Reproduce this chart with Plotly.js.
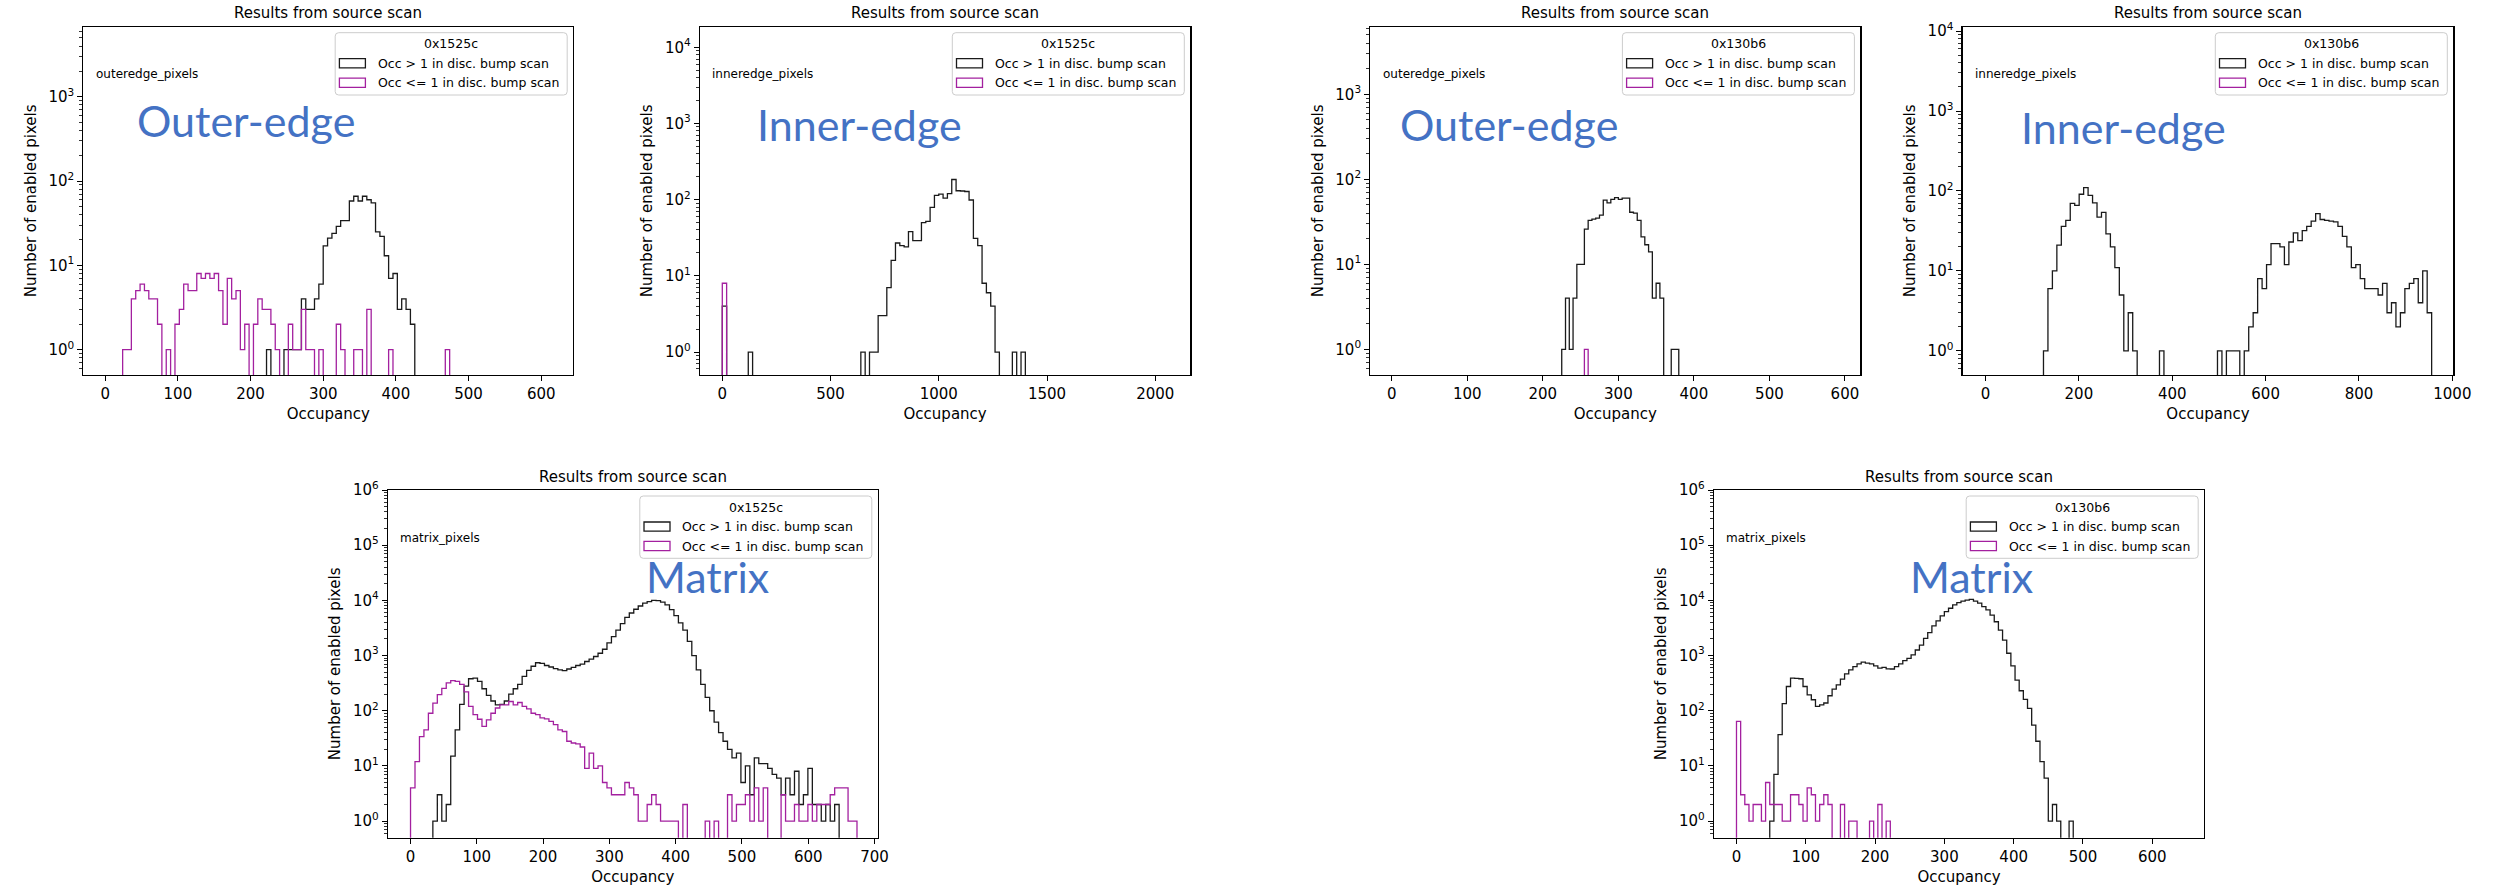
<!DOCTYPE html>
<html>
<head>
<meta charset="utf-8">
<script src="https://cdn.plot.ly/plotly-3.0.1.min.js"></script>
<style>
  html, body { margin: 0; padding: 0; background: #ffffff; }
  #chart { width: 2496px; height: 888px; }
</style>
</head>
<body>
<div id="chart"></div>
<script>
// Occupancy histograms from the source scan for two chips (0x1525c, 0x130b6),
// one panel per pixel region, each split by the disc. bump scan result.

const W = 2496, H = 888;

// ---------------- histogram contents ----------------
// Each series: bin width, index of the first listed bin, counts per bin.

// 0x1525c, outer-edge pixels
const outer1525cBinWidth = 6;
const outer1525cHighStart = 37;
const outer1525cHigh = [1,0,0,0,1,1,1,1,4,3,3,4,6,17,21,24,29,34,34,58,66,58,66,60,55,25,22,13,7,8,3,4,3,2];
const outer1525cLowStart = 4;
const outer1525cLow = [1,1,4,5,6,5,4,4,2,0, 1,0,2,3,6,5,5,8,7,8, 7,8,5,2,7,4,5,1,2,0,
                       2,4,3,3,2,1,0,0,2,1, 1,3,1,1,0,1,0,0,0,2, 1,0,0,1,1,0,3,0,0,0,
                       0,1,0,0,0,0,0,0,0,0, 0,0,0,0,1];

// 0x1525c, inner-edge pixels
const inner1525cBinWidth = 20;
const inner1525cHighStart = 0;
const inner1525cHigh = [4,0,0,0,0,0,1,
                        0,0,0,0,0, 0,0,0,0,0, 0,0,0,0,0, 0,0,0,0,0, 0,0,0,0,0,
                        1,0,1,1,3,3,7,16,27,25,24,38,29,29,50,52,79,114,118,105,120,184,131,130,128,99,31,25,8,6,4,1,0,0,0,1,0,1];
const inner1525cLowStart = 0;
const inner1525cLow = [8];

// 0x130b6, outer-edge pixels
const outer130b6BinWidth = 5;
const outer130b6HighStart = 45;
const outer130b6High = [1,4,1,4,10,10,26,33,34,35, 38,57,53,58,61,58,60,60,41,40, 33,21,17,14,4,6,4,0,0,1, 1];
const outer130b6LowStart = 51;
const outer130b6Low = [1];

// 0x130b6, inner-edge pixels
const inner130b6BinWidth = 9.556;
const inner130b6HighStart = 13;
const inner130b6High = [1,6,10,21,36,43,70,66,91,110,88,71,47,54,29,20,11,5,1,3,1,
                        0,0,0,0,0, 1, 0,0,0,0,0,0,0,0,0,0,0,0, 1,0,1,1,1,0,
                        1,2,3,8,6,12,22,22,20,12, 23,30,24,32,36,42,52,44,43,42,
                        41,36,27,20,11,12,8,6,6,6, 5,7,3,4,2,3,6,7,8,4, 10,3];
const inner130b6LowStart = 0;
const inner130b6Low = [];

// 0x1525c, matrix pixels
const matrix1525cBinWidth = 6.736;
const matrix1525cHighStart = 5;
const matrix1525cHigh = [1,3,1,2,15,45,130,280,380,390,
                         340,250,190,150,128,130,150,200,250,300,
                         420,540,640,740,720,660,620,580,550,535,
                         570,610,660,700,780,860,960,1100,1300,1700,
                         2200,2900,3800,4900,5900,6900,7900,8900,9500,10000,
                         9900,9300,8300,6800,5300,3900,2900,1800,1000,550,
                         300,175,100,62,40,28,20,14,17,5,
                         10,3,14,11,11,9,7,6,3,6,
                         3,8,2,3,9,2,2,1,2,1,2];
const matrix1525cLowStart = 0;
const matrix1525cLow = [4,12,34,45,90,137,195,255,320,350,
                        340,300,220,120,85,70,52,68,90,112,
                        128,128,147,128,141,120,108,90,85,74,
                        71,64,56,45,42,28,26,25,22,9,
                        17,9,10,5,4,3,3,3,5,4,
                        3,1,1,2,3,2,1,1,1,1,
                        0,2,0,0,0,0,1,0,1,0,
                        0,3,1,2,2,3,1,4,1,4,
                        0,0,0,3,1,1,2,1,1,2,
                        1,2,2,2,3,4,4,4,1,1];

// 0x130b6, matrix pixels
const matrix130b6BinWidth = 6;
const matrix130b6HighStart = 8;
const matrix130b6High = [1,7,37,134,275,390,385,380,275,194,
                         158,120,128,138,187,246,294,374,465,550,
                         630,707,760,730,707,650,590,610,575,570,
                         630,707,810,890,1025,1260,1550,2050,2600,3450,
                         4250,5250,6250,7200,8270,9100,9700,10100,10400,9700,
                         8900,7700,6700,5400,4100,2900,1900,1100,650,360,
                         230,160,110,55,28,12,6,1,2,1,
                         0,0,1];
const matrix130b6LowStart = 0;
const matrix130b6Low = [64,3,2,1,2,2,1,5,2,2, 2,1,1,3,3,2,1,4,3,1, 2,3,2,0,0,2,0,1,1,0, 0,0,1,0,2,0,1];

// Text
const chipNames = ['0x1525c', '0x1525c', '0x130b6', '0x130b6', '0x1525c', '0x130b6'];
const regionNames = ['outeredge_pixels', 'inneredge_pixels', 'outeredge_pixels', 'inneredge_pixels', 'matrix_pixels', 'matrix_pixels'];
const regionTitles = ['Outer-edge', 'Inner-edge', 'Outer-edge', 'Inner-edge', 'Matrix', 'Matrix'];
const seriesNames = ['Occ > 1 in disc. bump scan', 'Occ <= 1 in disc. bump scan'];
const plotTitle = 'Results from source scan';
const xTitle = 'Occupancy';
const yTitle = 'Number of enabled pixels';

// ---------------- layout of the six panels (pixels) ----------------
const panels = [
  { l: 83.4,   r: 573.2,  t: 26.7, b: 375,   xr: [-30, 644],   dt: 100, yTop: 3.831, tag: [136.6, 136.7],
    w: outer1525cBinWidth, hs: outer1525cHighStart, hi: outer1525cHigh, ls: outer1525cLowStart, lo: outer1525cLow },
  { l: 700,    r: 1190.3, t: 26.7, b: 375,   xr: [-103, 2162], dt: 500, yTop: 4.27,  tag: [757, 141],
    w: inner1525cBinWidth, hs: inner1525cHighStart, hi: inner1525cHigh, ls: inner1525cLowStart, lo: inner1525cLow },
  { l: 1370.3, r: 1860.4, t: 26.7, b: 375,   xr: [-28.5, 620.5], dt: 100, yTop: 3.795, tag: [1400.1, 140.7],
    w: outer130b6BinWidth, hs: outer130b6HighStart, hi: outer130b6High, ls: outer130b6LowStart, lo: outer130b6Low },
  { l: 1962.6, r: 2453.3, t: 26.7, b: 375,   xr: [-49, 1002],  dt: 200, yTop: 4.054, tag: [2020.5, 144],
    w: inner130b6BinWidth, hs: inner130b6HighStart, hi: inner130b6High, ls: inner130b6LowStart, lo: inner130b6Low },
  { l: 388,    r: 877.8,  t: 490,  b: 837.7, xr: [-34, 705],   dt: 100, yTop: 6,     tag: [646.3, 592.8],
    w: matrix1525cBinWidth, hs: matrix1525cHighStart, hi: matrix1525cHigh, ls: matrix1525cLowStart, lo: matrix1525cLow },
  { l: 1713.9, r: 2204.2, t: 490,  b: 837.7, xr: [-32.6, 675], dt: 100, yTop: 6,     tag: [1910.4, 592.8],
    w: matrix130b6BinWidth, hs: matrix130b6HighStart, hi: matrix130b6High, ls: matrix130b6LowStart, lo: matrix130b6Low }
];

const HIGH_COLOR = '#1a1a1a';
const LOW_COLOR = '#a3209f';
const FONT = 'DejaVu Sans';
const YBOTTOM = Math.log10(0.5);

const px = x => x / W;
const py = y => 1 - y / H;

// Outline of a step histogram: rises from below the axis at the first edge,
// follows every bin top, and drops back below the axis after the last bin.
function stepTrace(binWidth, start, counts, color, xa, ya) {
  const floor = 1e-3;
  const x = [start * binWidth], y = [floor];
  counts.forEach((c, i) => { x.push((start + i) * binWidth); y.push(c > 0 ? c : floor); });
  x.push((start + counts.length) * binWidth); y.push(floor);
  return { type: 'scatter', mode: 'lines', x, y, xaxis: xa, yaxis: ya,
           line: { shape: 'hv', color, width: 1.3 }, hoverinfo: 'skip', showlegend: false };
}

function roundRect(x0, y0, x1, y1, r) {
  const X = v => px(v).toFixed(6), Y = v => py(v).toFixed(6);
  return `M ${X(x0 + r)},${Y(y0)} L ${X(x1 - r)},${Y(y0)} Q ${X(x1)},${Y(y0)} ${X(x1)},${Y(y0 + r)} ` +
         `L ${X(x1)},${Y(y1 - r)} Q ${X(x1)},${Y(y1)} ${X(x1 - r)},${Y(y1)} ` +
         `L ${X(x0 + r)},${Y(y1)} Q ${X(x0)},${Y(y1)} ${X(x0)},${Y(y1 - r)} ` +
         `L ${X(x0)},${Y(y0 + r)} Q ${X(x0)},${Y(y0)} ${X(x0 + r)},${Y(y0)} Z`;
}

const traces = [];
const layout = {
  width: W, height: H, autosize: false,
  margin: { l: 0, r: 0, t: 0, b: 0, pad: 0 },
  paper_bgcolor: '#ffffff', plot_bgcolor: '#ffffff',
  showlegend: false,
  font: { family: FONT, color: '#000000', size: 15 },
  annotations: [], shapes: []
};

panels.forEach((p, i) => {
  const n = i === 0 ? '' : String(i + 1);
  const xa = 'x' + n, ya = 'y' + n;

  traces.push(stepTrace(p.w, p.hs, p.hi, HIGH_COLOR, xa, ya));
  if (p.lo.length) traces.push(stepTrace(p.w, p.ls, p.lo, LOW_COLOR, xa, ya));

  const decades = [], labels = [], minors = [];
  for (let d = 0; d <= Math.floor(p.yTop); d++) { decades.push(Math.pow(10, d)); labels.push('10<sup>' + d + '</sup>'); }
  for (let d = -1; d <= Math.floor(p.yTop); d++) {
    for (let m = 2; m <= 9; m++) {
      const v = m * Math.pow(10, d), lv = Math.log10(v);
      if (lv > YBOTTOM && lv < p.yTop) minors.push(v);
    }
  }

  layout['xaxis' + n] = {
    domain: [px(p.l), px(p.r)], anchor: ya, range: p.xr,
    tickmode: 'linear', tick0: 0, dtick: p.dt,
    ticks: 'outside', ticklen: 5, tickwidth: 1, tickcolor: '#000',
    showline: true, mirror: true, linecolor: '#000', linewidth: 1.2,
    showgrid: false, zeroline: false, automargin: false, fixedrange: true,
    tickfont: { family: FONT, size: 15, color: '#000' },
    title: { text: xTitle, font: { family: FONT, size: 15, color: '#000' }, standoff: 6 }
  };
  layout['yaxis' + n] = {
    domain: [py(p.b), py(p.t)], anchor: xa, type: 'log', range: [YBOTTOM, p.yTop],
    tickmode: 'array', tickvals: decades, ticktext: labels,
    ticks: 'outside', ticklen: 5, tickwidth: 1, tickcolor: '#000',
    minor: { tickmode: 'array', tickvals: minors, ticks: 'outside', ticklen: 3, tickwidth: 0.8, tickcolor: '#000', showgrid: false },
    showline: true, mirror: true, linecolor: '#000', linewidth: 1.2,
    showgrid: false, zeroline: false, automargin: false, fixedrange: true,
    tickfont: { family: FONT, size: 15, color: '#000' },
    title: { text: yTitle, font: { family: FONT, size: 15, color: '#000' }, standoff: 8 }
  };

  // panel title
  layout.annotations.push({ xref: 'paper', yref: 'paper', x: px((p.l + p.r) / 2), y: py(p.t - 13.4),
    xanchor: 'center', yanchor: 'middle', showarrow: false, text: plotTitle,
    font: { family: FONT, size: 15, color: '#000' } });

  // pixel-region note
  layout.annotations.push({ xref: 'paper', yref: 'paper', x: px(p.l + 10.4), y: py(p.t + 47.6),
    xanchor: 'left', yanchor: 'middle', showarrow: false, text: regionNames[i],
    font: { family: FONT, size: 12, color: '#000' } });

  // large region caption
  layout.annotations.push({ xref: 'paper', yref: 'paper', x: px(p.tag[0] - 2), y: py(p.tag[1] - 16.5),
    xanchor: 'left', yanchor: 'middle', showarrow: false, text: regionTitles[i],
    font: { family: 'Lato', size: 43, color: '#4472C4' } });

  // legend box
  const bx1 = p.r - 6, by0 = p.t + 6, bx0 = bx1 - 232, by1 = by0 + 62.3;
  layout.shapes.push({ type: 'path', xref: 'paper', yref: 'paper', layer: 'above',
    path: roundRect(bx0, by0, bx1, by1, 3.5),
    fillcolor: 'rgba(255,255,255,0.8)', line: { color: '#cccccc', width: 1 } });
  layout.annotations.push({ xref: 'paper', yref: 'paper', x: px((bx0 + bx1) / 2), y: py(by0 + 11),
    xanchor: 'center', yanchor: 'middle', showarrow: false, text: chipNames[i],
    font: { family: FONT, size: 12.5, color: '#000' } });
  [HIGH_COLOR, LOW_COLOR].forEach((c, k) => {
    const cy = by0 + 30.6 + k * 19.4;
    layout.shapes.push({ type: 'rect', xref: 'paper', yref: 'paper', layer: 'above',
      x0: px(bx0 + 4.2), x1: px(bx0 + 30.2), y0: py(cy - 4.6), y1: py(cy + 4.6),
      fillcolor: 'rgba(0,0,0,0)', line: { color: c, width: 1.3 } });
    layout.annotations.push({ xref: 'paper', yref: 'paper', x: px(bx0 + 40.6), y: py(cy),
      xanchor: 'left', yanchor: 'middle', showarrow: false, text: seriesNames[k],
      font: { family: FONT, size: 12.5, color: '#000' } });
  });
});

Plotly.newPlot('chart', traces, layout, { staticPlot: true, displayModeBar: false });
</script>
</body>
</html>
